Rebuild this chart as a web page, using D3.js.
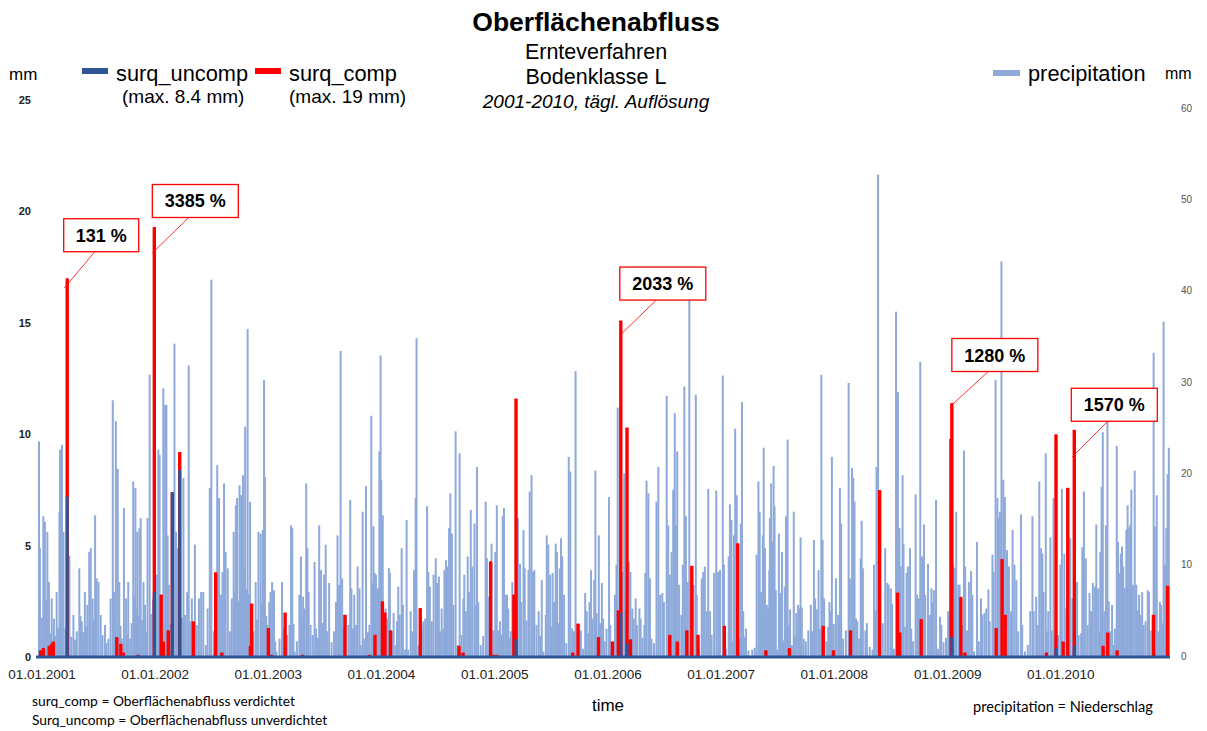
<!DOCTYPE html>
<html>
<head>
<meta charset="utf-8">
<script src="https://cdn.jsdelivr.net/npm/d3@7"></script>
<style>
  html, body { margin: 0; padding: 0; background: #fff; }
  svg { display: block; }
</style>
</head>
<body>
<svg id="chart" width="1207" height="731"></svg>
<script>
// Daily precipitation (mm), listed as [day of year, mm] for each rainy day
const precip2001 = [[0,23.5],[3,11.8],[9,4.2],[14,15.3],[19,14.7],[23,6.1],[27,13.6],[32,8.1],[37,2.5],[41,6.3],[48,4.1],[52,2.2],[57,7.0],[62,3.1],[66,15.8],[68,22.6],[71,9.5],[74,23.1],[79,13.6],[85,3.0],[98,11.0],[104,2.1],[111,4.5],[116,1.8],[122,2.7],[130,9.6],[134,4.4],[138,3.8],[143,2.6],[148,7.0],[152,3.2],[156,5.6],[162,11.4],[167,11.8],[173,6.3],[177,4.0],[181,15.4],[186,8.5],[192,8.1],[199,4.5],[205,2.3],[213,3.4],[218,1.4],[224,1.9],[231,6.3],[238,28.0],[242,7.0],[245,4.2],[248,25.7],[254,20.5],[259,8.1],[263,3.3],[267,1.9],[274,16.2],[281,6.3],[285,2.4],[288,8.1],[294,1.9],[299,3.6],[304,19.1],[308,6.5],[311,18.4],[314,5.1],[317,13.6],[321,4.4],[324,14.0],[328,15.1],[333,3.9],[337,8.1],[342,5.6],[346,2.6],[350,15.1],[357,30.8],[361,4.6]];
const precip2002 = [[3,6.2],[11,3.0],[15,8.9],[20,22.6],[24,22.0],[29,5.1],[33,6.6],[36,29.3],[42,27.5],[46,27.5],[50,13.2],[54,7.8],[59,3.5],[64,4.8],[68,2.6],[72,34.2],[77,13.6],[82,11.8],[86,5.5],[90,20.2],[96,4.2],[101,19.5],[106,4.5],[113,7.0],[118,31.8],[123,3.8],[128,6.3],[133,2.9],[138,12.2],[144,3.4],[151,6.3],[158,7.0],[165,7.0],[173,1.2],[179,5.2],[186,18.4],[191,41.2],[199,2.7],[205,9.2],[210,20.9],[216,17.3],[222,6.7],[227,9.2],[232,18.9],[237,11.4],[244,9.6],[251,2.7],[257,6.3],[263,13.6],[267,7.1],[270,16.5],[274,17.3],[278,6.0],[282,18.7],[287,17.6],[290,8.2],[293,19.8],[297,9.5],[300,25.1],[304,7.3],[308,35.8],[312,6.8],[316,16.9],[321,4.2],[327,2.7],[334,8.1],[338,4.0],[343,13.6],[350,13.4],[354,5.8],[357,13.8],[361,30.2],[364,19.6]];
const precip2003 = [[3,4.4],[7,3.4],[10,2.1],[13,5.9],[17,7.0],[22,8.1],[28,7.2],[32,1.6],[36,0.5],[46,1.9],[54,8.1],[60,3.0],[70,2.3],[78,3.4],[83,14.3],[87,14.0],[91,3.5],[95,0.5],[102,1.6],[110,6.7],[115,10.9],[119,4.1],[122,6.5],[126,5.2],[132,18.9],[136,11.8],[140,7.0],[146,3.4],[153,2.3],[159,10.3],[164,3.0],[170,2.0],[174,14.3],[180,9.4],[185,3.6],[190,8.9],[195,12.2],[200,2.7],[206,8.0],[214,1.5],[222,2.7],[228,5.9],[233,13.2],[238,7.8],[243,33.4],[248,8.5],[254,3.2],[260,4.5],[268,3.4],[274,17.1],[278,7.4],[283,3.0],[287,6.7],[293,3.4],[298,9.8],[304,7.4],[308,1.2],[314,15.8],[319,1.9],[325,18.6],[331,2.6],[336,3.4],[342,26.3],[345,8.0],[349,14.2],[353,9.1],[357,8.9],[362,7.4]];
const precip2004 = [[0,7.4],[3,22.4],[5,14.2],[7,32.9],[9,19.3],[14,15.4],[18,4.3],[23,5.2],[28,4.1],[34,9.6],[37,9.1],[44,2.7],[49,4.7],[55,1.2],[60,3.8],[64,7.6],[69,4.5],[75,11.8],[79,5.6],[86,0.7],[91,14.9],[96,0.7],[104,4.9],[109,2.7],[115,9.4],[120,17.3],[123,34.8],[130,1.2],[136,2.6],[140,3.4],[145,3.8],[151,4.1],[157,16.4],[161,9.2],[166,7.6],[172,3.8],[178,8.9],[185,10.7],[189,8.0],[195,8.7],[199,2.7],[204,5.2],[209,3.0],[213,9.4],[218,10.5],[223,9.8],[228,14.0],[232,17.8],[237,13.4],[242,5.6],[249,24.6],[255,1.2],[262,22.2],[268,2.3],[274,6.3],[277,8.9],[282,4.9],[288,10.9],[292,7.0],[298,16.0],[303,9.8],[310,14.5],[315,5.6],[318,20.7],[322,5.9],[330,1.2],[338,2.2],[346,16.9],[350,10.7],[357,6.5],[361,3.1],[365,12.3]];
const precip2005 = [[5,2.8],[11,11.4],[16,16.5],[21,2.8],[26,3.8],[30,2.3],[35,15.3],[39,16.2],[45,6.7],[49,6.7],[53,5.2],[57,2.0],[61,2.7],[66,8.1],[70,6.3],[75,3.1],[84,15.1],[91,10.1],[95,5.9],[102,13.8],[106,9.6],[112,3.9],[118,9.4],[122,18.0],[128,19.8],[133,9.2],[137,9.4],[144,3.4],[151,4.9],[156,2.2],[161,8.3],[166,0.5],[174,4.5],[177,13.2],[182,12.2],[188,8.9],[192,3.2],[196,9.1],[201,5.9],[206,12.3],[210,11.4],[214,3.6],[219,9.6],[223,12.9],[227,10.9],[233,6.7],[240,1.4],[248,21.8],[253,20.2],[259,3.0],[265,2.7],[270,31.2],[276,3.4],[282,3.5],[287,2.8],[294,0.8],[301,6.9],[306,4.9],[311,2.5],[315,5.9],[320,9.4],[324,4.1],[330,8.3],[334,20.3],[338,4.7],[345,13.2],[349,3.6],[355,8.0],[359,4.1],[364,1.6]];
const precip2006 = [[5,3.0],[13,17.4],[17,3.4],[23,1.6],[32,6.7],[37,10.0],[41,27.2],[45,4.9],[50,3.0],[56,9.2],[62,20.0],[66,5.0],[70,6.5],[77,10.3],[82,9.2],[88,5.2],[93,4.1],[99,6.3],[103,3.4],[111,5.2],[115,4.1],[121,2.0],[127,3.4],[130,9.1],[134,19.2],[140,17.8],[145,8.5],[150,1.9],[158,1.4],[166,16.9],[172,20.7],[178,6.7],[185,6.9],[190,5.9],[199,28.5],[204,14.3],[209,8.9],[215,11.4],[220,18.2],[225,26.6],[229,14.3],[233,22.4],[239,7.8],[246,4.5],[251,10.0],[256,29.5],[261,15.3],[267,8.1],[272,41.9],[278,6.3],[286,7.8],[293,28.6],[296,6.7],[303,0.8],[312,8.5],[317,9.2],[322,9.8],[328,4.9],[333,18.3],[339,4.9],[344,2.3],[352,9.1],[359,18.1]];
const precip2007 = [[0,9.2],[6,9.4],[15,30.7],[19,10.0],[25,0.8],[34,10.9],[38,16.6],[43,14.9],[47,1.6],[51,13.2],[55,24.9],[60,17.6],[64,3.3],[69,1.9],[73,14.5],[77,27.8],[81,4.9],[86,2.1],[90,3.0],[98,0.6],[110,0.7],[118,0.9],[124,11.1],[130,19.1],[134,15.8],[138,7.0],[144,13.2],[147,22.8],[151,11.8],[157,5.6],[161,5.2],[165,9.4],[167,15.1],[171,18.9],[175,12.5],[179,20.8],[182,16.4],[186,7.2],[190,0.7],[196,13.4],[200,6.9],[206,11.4],[210,1.7],[215,7.6],[219,15.3],[224,23.7],[228,3.4],[232,5.1],[238,1.2],[244,15.8],[248,2.1],[252,4.7],[258,5.6],[262,5.2],[266,13.0],[270,5.3],[276,1.9],[283,1.6],[291,2.8],[299,5.6],[303,2.7],[309,12.7],[313,6.3],[318,5.1],[324,9.4],[328,3.0],[333,30.8],[337,12.7],[342,6.3],[350,1.6],[355,3.2],[359,5.9],[363,4.9]];
const precip2008 = [[2,21.8],[8,3.5],[15,8.5],[22,4.5],[28,18.4],[32,14.5],[38,1.9],[47,2.8],[56,29.9],[60,8.5],[67,20.6],[71,19.5],[75,16.9],[80,4.1],[84,3.8],[90,1.9],[95,10.7],[98,14.8],[102,9.6],[110,2.8],[115,3.6],[124,1.0],[133,0.7],[138,10.0],[142,5.0],[146,20.7],[151,52.7],[157,3.4],[166,3.6],[174,11.8],[181,8.0],[185,7.8],[192,7.4],[196,5.7],[202,0.8],[209,37.7],[215,28.9],[220,14.0],[224,9.8],[230,19.8],[233,12.3],[239,3.2],[243,9.1],[247,9.8],[254,11.8],[258,3.0],[264,1.6],[272,17.7],[277,6.7],[282,6.3],[287,32.2],[293,10.9],[299,14.4],[303,6.7],[312,10.1],[318,4.5],[323,7.4],[327,5.9],[331,7.2],[338,17.1],[344,0.8],[351,4.3],[355,3.4],[362,1.5]];
const precip2009 = [[4,2.0],[11,4.9],[19,4.5],[27,10.0],[33,9.6],[37,15.8],[44,7.8],[48,7.8],[57,3.4],[62,22.5],[66,9.8],[72,2.8],[78,8.1],[85,9.3],[89,6.7],[95,0.5],[104,12.5],[110,1.6],[117,6.3],[121,4.5],[128,4.7],[134,5.2],[141,7.3],[145,3.8],[154,11.1],[158,9.2],[164,30.2],[170,17.3],[175,15.1],[178,15.8],[183,43.2],[189,19.3],[194,17.4],[201,11.6],[207,9.8],[214,4.9],[219,13.8],[225,10.0],[231,8.3],[237,2.7],[246,15.5],[250,3.4],[259,0.5],[268,1.2],[276,4.9],[283,15.3],[287,4.9],[295,6.5],[300,3.4],[305,19.1],[311,11.8],[315,11.2],[319,7.0],[326,22.2],[330,2.7],[334,4.9],[341,13.0],[345,2.8],[351,17.3],[356,2.3]];
const precip2010 = [[1,2.3],[8,10.0],[13,18.3],[21,11.2],[27,5.2],[34,13.1],[40,12.9],[47,6.3],[55,5.2],[62,8.1],[67,2.3],[75,2.5],[79,11.9],[84,18.0],[90,10.7],[96,3.4],[102,6.9],[107,4.9],[113,8.0],[120,7.6],[124,14.4],[130,7.4],[134,2.7],[137,11.4],[141,18.5],[145,24.5],[150,4.9],[155,14.3],[160,28.6],[164,6.0],[169,2.7],[175,5.6],[180,1.2],[184,3.0],[190,23.0],[194,12.5],[198,9.1],[203,11.2],[207,12.0],[211,9.8],[216,7.4],[221,13.8],[225,16.5],[230,14.1],[234,14.4],[237,18.2],[242,7.8],[248,20.3],[253,7.8],[258,5.0],[262,6.7],[267,4.5],[272,7.0],[277,3.4],[283,3.8],[290,7.2],[294,7.0],[301,2.8],[305,4.5],[309,33.2],[313,14.2],[319,17.6],[324,2.7],[329,5.9],[333,5.6],[337,3.6],[341,36.6],[346,10.0],[350,14.0],[354,19.9],[358,22.8]];

const precipYears = [
  [2001, precip2001], [2002, precip2002], [2003, precip2003], [2004, precip2004], [2005, precip2005],
  [2006, precip2006], [2007, precip2007], [2008, precip2008], [2009, precip2009], [2010, precip2010]
];

// Surface runoff, compacted soil: [year, day of year, mm]
const surqComp = [
  [2001,5,0.3],[2001,14,0.4],[2001,33,0.5],[2001,41,0.6],[2001,46,0.7],[2001,91,17.0],[2001,251,0.9],[2001,264,0.6],[2001,272,0.2],[2001,320,0.1],
  [2002,7,19.3],[2002,29,2.8],[2002,36,0.7],[2002,52,1.2],[2002,65,7.4],[2002,89,9.2],[2002,133,1.6],[2002,205,3.8],[2002,225,0.2],[2002,317,0.5],[2002,321,2.4],
  [2003,10,1.3],[2003,20,0.1],[2003,64,2.0],[2003,120,0.1],[2003,257,1.9],[2003,336,0.1],[2003,354,1.0],
  [2004,13,2.5],[2004,21,2.0],[2004,39,1.2],[2004,135,2.2],[2004,260,0.5],[2004,273,0.2],[2004,362,4.3],
  [2005,5,0.1],[2005,16,0.1],[2005,71,2.8],[2005,78,11.6],[2005,261,0.2],[2005,278,1.5],[2005,344,0.9],
  [2006,24,0.7],[2006,43,2.1],[2006,51,15.1],[2006,71,10.3],[2006,82,0.8],[2006,209,1.0],[2006,233,0.7],[2006,264,1.2],[2006,280,4.1],[2006,300,1.0],
  [2007,20,1.4],[2007,63,5.1],[2007,154,0.3],[2007,230,0.4],[2007,339,1.4],
  [2008,7,0.3],[2008,62,1.2],[2008,156,7.5],[2008,214,2.9],[2008,221,1.1],[2008,290,1.7],
  [2009,20,9.8],[2009,23,11.4],[2009,52,2.7],[2009,65,0.2],[2009,166,1.3],[2009,185,4.4],[2009,195,1.9],[2009,328,0.2],[2009,359,10.0],
  [2010,17,0.7],[2010,32,7.6],[2010,53,10.2],[2010,146,0.5],[2010,161,1.1],[2010,191,0.3],[2010,309,1.9],[2010,354,3.2]
];

// Surface runoff, uncompacted soil: [year, day of year, mm]
const surqUncomp = [
  [2001,91,7.2],
  [2002,7,2.9],[2002,65,7.4],[2002,89,8.4],
  [2005,78,0.8],
  [2006,51,2.0],[2006,71,0.6],
  [2009,23,0.9],[2009,359,0.4],
  [2010,53,0.5]
];

// Relative increase of compacted over uncompacted runoff at the largest events
const callouts = [
  ["131 %", 2001, 91],
  ["3385 %", 2002, 7],
  ["2033 %", 2006, 51],
  ["1280 %", 2009, 23],
  ["1570 %", 2010, 53]
];

const leftTicks = [0, 5, 10, 15, 20, 25];
const rightTicks = [0, 10, 20, 30, 40, 50, 60];
const yearTicks = [2001, 2002, 2003, 2004, 2005, 2006, 2007, 2008, 2009, 2010];

// ---------------------------------------------------------------------------
const svg = d3.select("#chart");
const C_PRECIP = "#8eaadb", C_UNCOMP = "#2f5597", C_COMP = "#ff0000";
const FONT = "'Liberation Sans', Arial, sans-serif";
const NOTE_FONT = "Lato, 'Open Sans', sans-serif";

const dayDate = (y, doy) => d3.timeDay.offset(new Date(y, 0, 1), doy);

const x = d3.scaleTime()
  .domain([new Date(2001, 0, 1), new Date(2011, 0, 1)])
  .range([39, 1171]);
const yL = d3.scaleLinear().domain([0, 25]).range([657, 100]);
const yR = d3.scaleLinear().domain([0, 60]).range([656, 108]);

// precipitation bars (secondary axis)
const precipRows = precipYears.flatMap(([yr, arr]) => arr.map(([doy, v]) => ({ date: dayDate(yr, doy), v })));
svg.append("g").selectAll("rect").data(precipRows).join("rect")
  .attr("x", d => x(d.date) - 1)
  .attr("width", 2)
  .attr("y", d => yR(d.v))
  .attr("height", d => yR(0) - yR(d.v))
  .attr("fill", C_PRECIP);

// compacted runoff
svg.append("g").selectAll("rect").data(surqComp).join("rect")
  .attr("x", d => x(dayDate(d[0], d[1])) - 1.7)
  .attr("width", 3.4)
  .attr("y", d => yL(d[2]))
  .attr("height", d => yL(0) - yL(d[2]))
  .attr("rx", 0.8)
  .attr("fill", C_COMP);

// uncompacted runoff
svg.append("g").selectAll("rect").data(surqUncomp).join("rect")
  .attr("x", d => x(dayDate(d[0], d[1])) - 1.5)
  .attr("width", 3)
  .attr("y", d => yL(d[2]))
  .attr("height", d => yL(0) - yL(d[2]))
  .attr("fill", C_UNCOMP);

// baseline (uncompacted runoff at zero)
svg.append("line")
  .attr("x1", 36).attr("x2", 1170)
  .attr("y1", yL(0)).attr("y2", yL(0))
  .attr("stroke", C_UNCOMP).attr("stroke-width", 3);

// left axis labels
svg.append("g").selectAll("text").data(leftTicks).join("text")
  .attr("x", 31).attr("y", d => yL(d) + 4)
  .attr("text-anchor", "end")
  .attr("font-family", FONT).attr("font-size", 11).attr("font-weight", "bold")
  .attr("fill", "#222")
  .text(d => d);

// right axis labels
svg.append("g").selectAll("text").data(rightTicks).join("text")
  .attr("x", 1181).attr("y", d => yR(d) + 3.5)
  .attr("font-family", FONT).attr("font-size", 10)
  .attr("fill", "#555")
  .text(d => d);

// x axis labels
const fmt = d3.timeFormat("%d.%m.%Y");
svg.append("g").selectAll("text").data(yearTicks).join("text")
  .attr("x", d => x(new Date(d, 0, 1)) + 3)
  .attr("y", 679)
  .attr("text-anchor", "middle")
  .attr("font-family", FONT).attr("font-size", 13.5)
  .attr("fill", "#222")
  .text(d => fmt(new Date(d, 0, 1)));

// callouts
const calloutLayout = [
  { w: 75, dx: 34, dy: -43, lx: -3, ly: 10 },
  { w: 86, dx: 41, dy: -26, lx: -2, ly: 26 },
  { w: 86, dx: 42, dy: -37, lx: 1, ly: 13 },
  { w: 86, dx: 43, dy: -48, lx: 1, ly: 1 },
  { w: 86, dx: 40, dy: -25, lx: -2, ly: 27 }
];
const compLookup = new Map(surqComp.map(d => [d[0] + "-" + d[1], d[2]]));
const cg = svg.append("g");
callouts.forEach(([label, yr, doy], i) => {
  const L = calloutLayout[i];
  const px = x(dayDate(yr, doy));
  const py = yL(compLookup.get(yr + "-" + doy));
  const cx = px + L.dx, cy = py + L.dy;
  cg.append("line")
    .attr("x1", cx - 6).attr("y1", cy + 16)
    .attr("x2", px + L.lx).attr("y2", py + L.ly)
    .attr("stroke", C_COMP).attr("stroke-width", 0.8);
  cg.append("rect")
    .attr("x", cx - L.w / 2).attr("y", cy - 16.5)
    .attr("width", L.w).attr("height", 33)
    .attr("fill", "#fff").attr("stroke", C_COMP).attr("stroke-width", 1.3);
  cg.append("text")
    .attr("x", cx).attr("y", cy + 6.5)
    .attr("text-anchor", "middle")
    .attr("font-family", FONT).attr("font-size", 18).attr("font-weight", "bold")
    .attr("fill", "#000")
    .text(label);
});

// titles
const t = svg.append("g").attr("font-family", FONT).attr("fill", "#000").attr("text-anchor", "middle");
t.append("text").attr("x", 596).attr("y", 31).attr("font-size", 26.5).attr("font-weight", "bold").text("Oberflächenabfluss");
t.append("text").attr("x", 596).attr("y", 59).attr("font-size", 21.5).text("Ernteverfahren");
t.append("text").attr("x", 596).attr("y", 84).attr("font-size", 21.5).text("Bodenklasse L");
t.append("text").attr("x", 596).attr("y", 108).attr("font-size", 19).attr("font-style", "italic").text("2001-2010, tägl. Auflösung");

// legend
const lg = svg.append("g").attr("font-family", FONT).attr("fill", "#000");
lg.append("text").attr("x", 9).attr("y", 80).attr("font-size", 17).text("mm");
lg.append("rect").attr("x", 82).attr("y", 68).attr("width", 26).attr("height", 6).attr("fill", C_UNCOMP);
lg.append("text").attr("x", 116).attr("y", 81).attr("font-size", 21.8).text("surq_uncomp");
lg.append("text").attr("x", 122).attr("y", 103).attr("font-size", 19).text("(max. 8.4 mm)");
lg.append("rect").attr("x", 255).attr("y", 68).attr("width", 26).attr("height", 6).attr("fill", C_COMP);
lg.append("text").attr("x", 289).attr("y", 81).attr("font-size", 21.8).text("surq_comp");
lg.append("text").attr("x", 289).attr("y", 103).attr("font-size", 19).text("(max. 19 mm)");
lg.append("rect").attr("x", 993).attr("y", 70).attr("width", 27).attr("height", 6).attr("fill", C_PRECIP);
lg.append("text").attr("x", 1028).attr("y", 81).attr("font-size", 21.8).text("precipitation");
lg.append("text").attr("x", 1165).attr("y", 79).attr("font-size", 16).text("mm");

// axis title and notes
svg.append("text").attr("x", 608).attr("y", 711).attr("text-anchor", "middle")
  .attr("font-family", FONT).attr("font-size", 17).text("time");
const notes = svg.append("g").attr("font-family", NOTE_FONT).attr("fill", "#000");
notes.append("text").attr("x", 32).attr("y", 706).attr("font-size", 13.8).text("surq_comp = Oberflächenabfluss verdichtet");
notes.append("text").attr("x", 32).attr("y", 725).attr("font-size", 13.8).text("Surq_uncomp = Oberflächenabfluss unverdichtet");
notes.append("text").attr("x", 973).attr("y", 712).attr("font-size", 14.6).text("precipitation = Niederschlag");
</script>
</body>
</html>
